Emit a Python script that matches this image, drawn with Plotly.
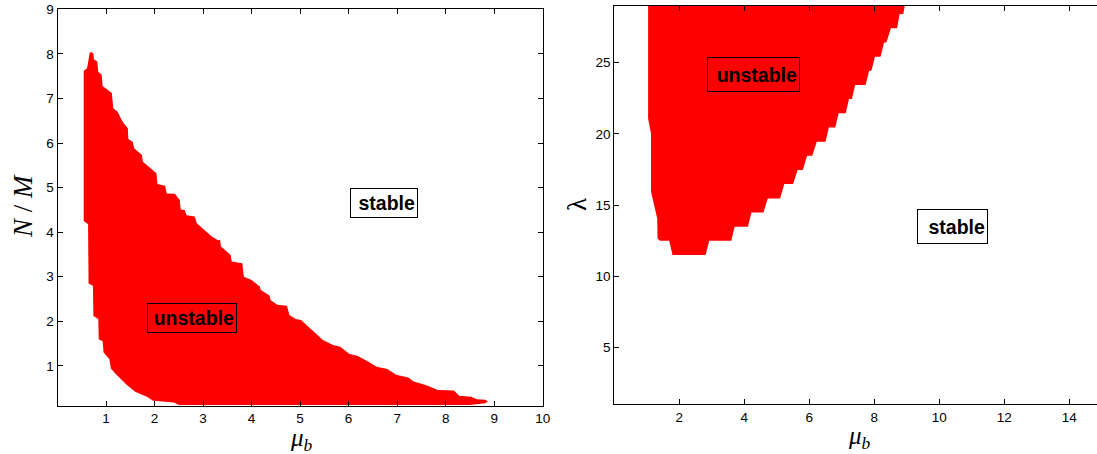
import plotly.graph_objects as go

# ---- Left panel: unstable region in (mu_b, N/M) plane (polygon vertices) ----
left_mu = [0.69, 0.74, 0.75, 0.82, 0.84, 0.91, 0.93, 1.05, 1.12, 1.15, 1.24, 1.32, 1.36,
           1.45, 1.46, 1.55, 1.58, 1.74, 1.76, 2.04, 2.06, 2.22, 2.25, 2.42, 2.52, 2.54,
           2.62, 2.66, 2.83, 2.87, 3.18, 3.31, 3.35, 3.37, 3.57, 3.59, 3.81, 3.84, 3.99,
           4.17, 4.19, 4.37, 4.39, 4.53, 4.73, 4.78, 4.91, 5.02, 5.47, 5.68, 5.83, 6.01,
           6.19, 6.40, 6.58, 6.80, 6.98, 7.23, 7.34, 7.59, 7.84, 8.17, 8.28, 8.53, 8.64,
           8.82, 8.87, 8.82,
           8.50, 2.50, 2.40, 1.97, 1.85, 1.60, 1.43, 1.19, 1.10, 1.07, 0.95, 0.93, 0.85,
           0.84, 0.74, 0.73, 0.64, 0.63, 0.54, 0.54, 0.61, 0.66]
left_nm = [8.05, 8.01, 7.88, 7.83, 7.60, 7.53, 7.28, 7.19, 7.12, 6.78, 6.70, 6.52, 6.45,
           6.33, 6.09, 6.03, 5.88, 5.73, 5.58, 5.32, 5.08, 5.04, 4.87, 4.86, 4.72, 4.51,
           4.50, 4.38, 4.35, 4.20, 3.90, 3.82, 3.83, 3.68, 3.49, 3.34, 3.30, 3.00, 2.93,
           2.78, 2.70, 2.58, 2.48, 2.37, 2.35, 2.14, 2.05, 2.03, 1.58, 1.47, 1.43, 1.27,
           1.22, 1.10, 0.98, 0.93, 0.80, 0.74, 0.65, 0.57, 0.46, 0.45, 0.33, 0.31, 0.25,
           0.24, 0.20, 0.16,
           0.12, 0.12, 0.18, 0.22, 0.30, 0.42, 0.57, 0.83, 0.94, 1.15, 1.30, 1.55, 1.60,
           2.05, 2.12, 2.80, 2.85, 4.18, 4.25, 7.62, 7.68, 8.01]

# ---- Right panel: unstable region in (mu_b, lambda) plane (polygon vertices) ----
right_mu = [1.04, 1.04, 1.13, 1.13, 1.32, 1.33, 1.40, 1.69, 1.79, 2.81, 2.92, 3.60, 3.70,
            4.11, 4.22, 4.59, 4.72, 5.10, 5.23, 5.50, 5.64, 5.80, 5.93, 6.09, 6.23, 6.50,
            6.60, 6.80, 6.90, 7.12, 7.22, 7.31, 7.41, 7.73, 7.84, 7.91, 8.02, 8.19, 8.30,
            8.37, 8.51, 8.70, 8.78, 8.89, 8.98]
right_lam = [29.5, 21.08, 20.03, 15.93, 14.06, 12.65, 12.49, 12.49, 11.48, 11.48, 12.49,
             12.49, 13.47, 13.47, 14.48, 14.48, 15.46, 15.46, 16.47, 16.47, 17.45, 17.45,
             18.46, 18.46, 19.44, 19.44, 20.45, 20.45, 21.44, 21.44, 22.44, 22.44, 23.43,
             23.43, 24.43, 24.43, 25.42, 25.42, 26.42, 26.42, 27.41, 27.41, 28.41, 28.41,
             29.5]

left_xticks = [1, 2, 3, 4, 5, 6, 7, 8, 9, 10]
left_yticks = [1, 2, 3, 4, 5, 6, 7, 8, 9]
right_xticks = [2, 4, 6, 8, 10, 12, 14]
right_yticks = [5, 10, 15, 20, 25]

W, H = 1097, 454
RED = "#ff0000"

fig = go.Figure()
fig.add_trace(go.Scatter(x=left_mu, y=left_nm, fill="toself", fillcolor=RED,
                         mode="lines", line=dict(width=0, color=RED),
                         hoverinfo="skip", showlegend=False, xaxis="x", yaxis="y"))
fig.add_trace(go.Scatter(x=right_mu, y=right_lam, fill="toself", fillcolor=RED,
                         mode="lines", line=dict(width=0, color=RED),
                         hoverinfo="skip", showlegend=False, xaxis="x2", yaxis="y2"))

tickfont = dict(family="Liberation Sans, Arial, sans-serif", size=13.5, color="black")
axis_common = dict(showgrid=False, zeroline=False, showline=True, linecolor="black",
                   linewidth=1.3, ticks="inside", ticklen=5, tickwidth=1,
                   tickcolor="black", tickfont=tickfont, automargin=False)

fig.update_layout(
    width=W, height=H,
    margin=dict(l=0, r=0, t=0, b=0, autoexpand=False),
    paper_bgcolor="white", plot_bgcolor="white",
    xaxis=dict(domain=[57.5 / W, 542.7 / W], range=[0, 10], tickvals=left_xticks,
               mirror="ticks", anchor="y", **axis_common),
    yaxis=dict(domain=[(H - 406) / H, (H - 9.3) / H], range=[0.1, 9],
               tickvals=left_yticks, mirror="ticks", anchor="x", **axis_common),
    xaxis2=dict(domain=[614.3 / W, 1.0], range=[0, 14.85], tickvals=right_xticks,
                mirror="ticks", anchor="y2", **axis_common),
    yaxis2=dict(domain=[(H - 404.3) / H, (H - 5.7) / H], range=[1, 29],
                tickvals=right_yticks, mirror=False, anchor="x2", **axis_common),
)

boxfont = dict(family="Liberation Sans, Arial, sans-serif", size=19.5, color="black")


def box_label(text, x, y, xref, yref, w, h, bg):
    return dict(text="<b>" + text + "</b>", x=x, y=y, xref=xref, yref=yref,
                showarrow=False, xanchor="center", yanchor="middle",
                width=w, height=h, align="right", valign="middle",
                bordercolor="black", borderwidth=1, borderpad=2,
                bgcolor=bg, font=boxfont)


titlefont = dict(family="Liberation Serif, Times New Roman, serif", size=25, color="black")

annotations = [
    box_label("unstable", 2.77, 2.07, "x", "y", 84, 24, RED),
    box_label("stable", 6.73, 4.65, "x", "y", 62, 24, "white"),
    box_label("unstable", 4.27, 24.17, "x2", "y2", 87, 29, RED),
    box_label("stable", 10.39, 13.48, "x2", "y2", 65, 29, "white"),
    dict(text="<i>μ</i><sub><i>b</i></sub>", x=301 / W, y=(H - 439) / H,
         xref="paper", yref="paper", showarrow=False, xanchor="center",
         yanchor="middle", font=titlefont),
    dict(text="<i>μ</i><sub><i>b</i></sub>", x=859 / W, y=(H - 437) / H,
         xref="paper", yref="paper", showarrow=False, xanchor="center",
         yanchor="middle", font=titlefont),
    dict(text="<i>N</i> / <i>M</i>", x=23 / W, y=(H - 206) / H,
         xref="paper", yref="paper", showarrow=False, xanchor="center",
         yanchor="middle", textangle=-90,
         font=dict(family="Liberation Serif, Times New Roman, serif", size=27, color="black")),
    dict(text="λ", x=577 / W, y=(H - 205) / H,
         xref="paper", yref="paper", showarrow=False, xanchor="center",
         yanchor="middle", textangle=-90,
         font=dict(family="Liberation Serif, Times New Roman, serif", size=27, color="black")),
]
fig.update_layout(annotations=annotations)

fig.write_html("out.html")
